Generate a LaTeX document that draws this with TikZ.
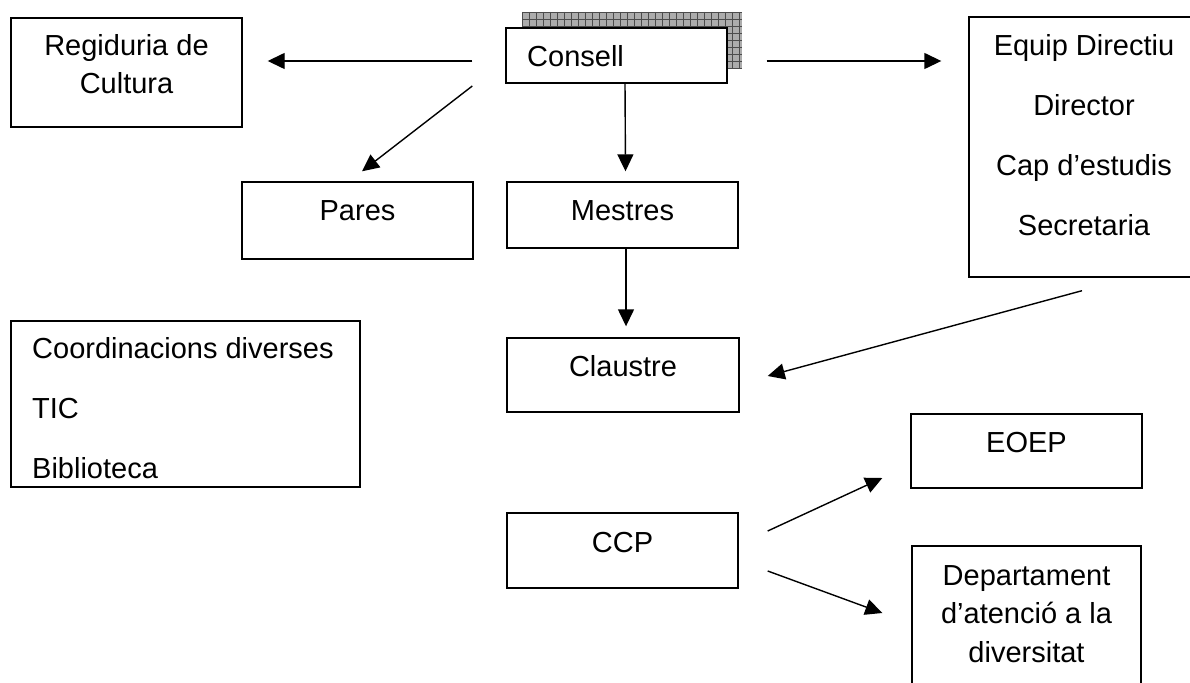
\documentclass[tikz,border=0pt]{standalone}
\usepackage{fontspec}
\setmainfont{Liberation Sans}
\usetikzlibrary{arrows.meta}
\tikzset{
  box/.style={draw, line width=1.4pt, fill=white, inner sep=0pt},
  lbl/.style={inner sep=0pt, anchor=base, font=\fontsize{29}{38}\selectfont},
  arr/.style={line width=1.4pt, -{Triangle[length=17pt,width=16pt]}}
}
\begin{document}
\begin{tikzpicture}[x=1pt, y=-1pt]
        \useasboundingbox (0,0) rectangle (1190,682);
        \clip (0,0) rectangle (1190,682);
        % shadow behind Consell
        \fill[gray!65] (522,12) rectangle (742,68);
        \foreach \gx in {522,529,...,742}
            \draw[black!70, line width=0.6pt] (\gx,12) -- (\gx,68);
        \foreach \gy in {12,19,...,68}
            \draw[black!70, line width=0.6pt] (522,\gy) -- (742,\gy);

        % boxes
        \node[box, minimum width=231pt, minimum height=109pt] (regid)    at (126.5,72.5) {};
        \node[box, minimum width=221pt, minimum height=55pt]  (consell)  at (616.5,55.5) {};
        \node[box, minimum width=230pt, minimum height=260pt] (equip)    at (1084,147)   {};
        \node[box, minimum width=231pt, minimum height=77pt]  (pares)    at (357.5,220.5) {};
        \node[box, minimum width=231pt, minimum height=66pt]  (mestres)  at (622.5,215)  {};
        \node[box, minimum width=349pt, minimum height=166pt] (coord)    at (185.5,404)  {};
        \node[box, minimum width=232pt, minimum height=74pt]  (claustre) at (623,375)    {};
        \node[box, minimum width=231pt, minimum height=74pt]  (eoep)     at (1026.5,451) {};
        \node[box, minimum width=231pt, minimum height=75pt]  (ccp)      at (622.5,550.5) {};
        \node[box, minimum width=229pt, minimum height=154pt] (depart)   at (1026.5,623) {};

        % texts (base = last line)
        \node[lbl, align=center] (regid-t) at (126.5,94) {Regiduria de\\Cultura};
        \node[lbl, anchor=base west] (consell-t) at (527,67) {Consell};
        \node[lbl, align=center, font=\fontsize{29}{60}\selectfont] (equip-t) at (1084,235)
            {Equip Directiu\\Director\\Cap d’estudis\\Secretaria};
        \node[lbl] (pares-t)    at (357.5,220) {Pares};
        \node[lbl] (mestres-t)  at (622.5,220) {Mestres};
        \node[lbl, anchor=base west, align=left, font=\fontsize{29}{60}\selectfont] (coord-t) at (32,478)
            {Coordinacions diverses\\TIC\\Biblioteca};
        \node[lbl] (claustre-t) at (623,376)   {Claustre};
        \node[lbl] (eoep-t)     at (1026.5,452) {EOEP};
        \node[lbl] (ccp-t)      at (622.5,552) {CCP};
        \node[lbl, align=center, font=\fontsize{29}{38.5}\selectfont] (depart-t) at (1026.5,662)
            {Departament\\d’atenció a la\\diversitat};

        % arrows
        \draw[arr] ([shift={(-33,5.5)}]consell.west)  -- ([shift={(25,-11.5)}]regid.east);
        \draw[arr] ([shift={(-33,30.5)}]consell.west) -- ([shift={(4.5,-10)}]pares.north);
        \draw[arr] ([shift={(8.5,0)}]consell.south)   -- ([shift={(3,-10)}]mestres.north);
        \draw[arr] ([shift={(39,5.5)}]consell.east)   -- ([shift={(-27,-86)}]equip.west);
        \draw[arr] ([shift={(3.5,0)}]mestres.south)   -- ([shift={(3,-11)}]claustre.north);
        \draw[arr] ([shift={(-2,13)}]equip.south)     -- ([shift={(28,1)}]claustre.east);
        \draw[arr] ([shift={(29,-19.5)}]ccp.east)     -- ([shift={(-28,27)}]eoep.west);
        \draw[arr] ([shift={(29,20.5)}]ccp.east)      -- ([shift={(-29,-10)}]depart.west);
\end{tikzpicture}
\end{document}
